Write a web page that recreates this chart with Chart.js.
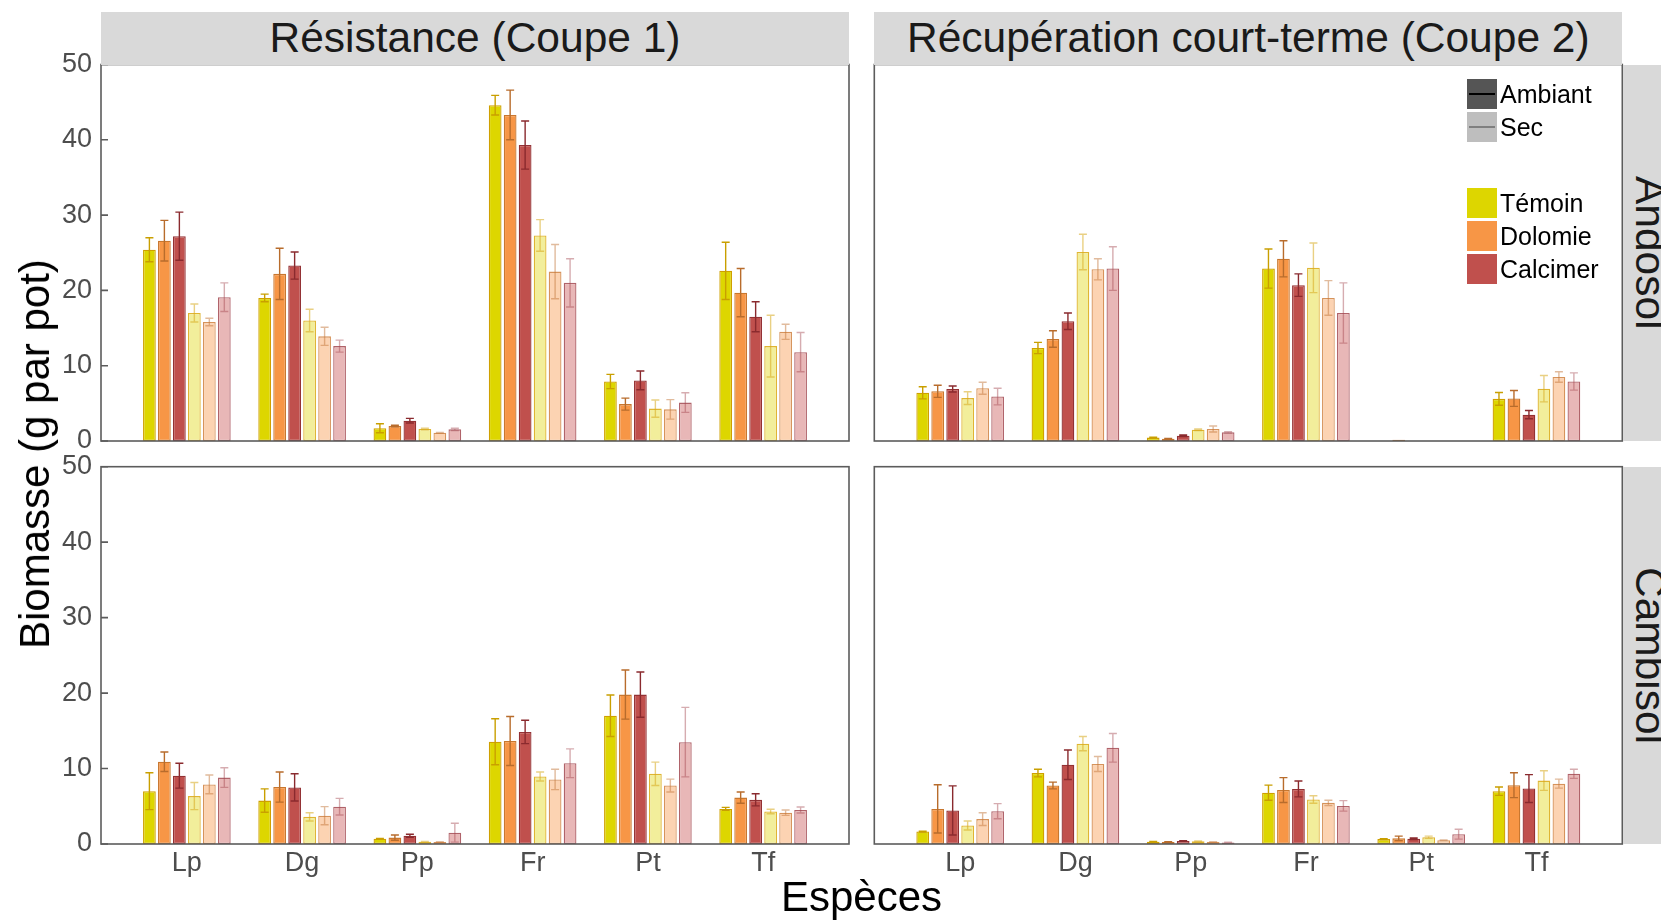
<!DOCTYPE html>
<html>
<head>
<meta charset="utf-8">
<script src="https://cdn.jsdelivr.net/npm/chart.js@4.4.1/dist/chart.umd.min.js"></script>
<style>
  body { margin: 0; background: #fff; overflow: hidden; }
  #wrap { position: relative; width: 1661px; height: 920px; overflow: hidden; font-family: 'Liberation Sans', Arial, sans-serif; }
  canvas { position: absolute; }
  .strip { position: absolute; background: #d9d9d9; color: #1a1a1a; font-size: 42.5px; display: flex; align-items: center; justify-content: center; white-space: nowrap; z-index: 2; }
  .vstrip { writing-mode: vertical-rl; }
  .title { position: absolute; color: #000; font-size: 42px; line-height: 42px; white-space: nowrap; z-index: 2; }
  .key { position: absolute; width: 30px; height: 30px; z-index: 3; }
  .key i { position: absolute; left: 2px; right: 2px; top: 14px; height: 1.5px; }
  .klab { position: absolute; font-size: 25px; line-height: 30px; color: #000; z-index: 3; }
</style>
</head>
<body>
<div id="wrap">
  <canvas id="c11" width="870" height="446" style="left:0;top:30px"></canvas>
  <canvas id="c12" width="801" height="446" style="left:860px;top:30px"></canvas>
  <canvas id="c21" width="870" height="480" style="left:0;top:430px"></canvas>
  <canvas id="c22" width="801" height="480" style="left:860px;top:430px"></canvas>

  <div class="strip" style="left:101px;top:12px;width:748px;height:52.5px">Résistance (Coupe 1)</div>
  <div class="strip" style="left:874.3px;top:12px;width:748px;height:52.5px">Récupération court-terme (Coupe 2)</div>
  <div class="strip vstrip" style="left:1623px;top:64.5px;width:53px;height:376.5px">Andosol</div>
  <div class="strip vstrip" style="left:1623px;top:466.7px;width:53px;height:377.3px">Cambisol</div>

  <div class="title" style="left:861.5px;top:876px;transform:translateX(-50%)">Espèces</div>
  <div class="title" style="left:35px;top:454px;transform:translate(-50%,-50%) rotate(-90deg)">Biomasse (g par pot)</div>

  <div class="key" style="left:1467px;top:79px;background:#555555"><i style="background:#000"></i></div>
  <div class="klab" style="left:1500px;top:79px">Ambiant</div>
  <div class="key" style="left:1467px;top:112.3px;background:#bebebe"><i style="background:#7f7f7f"></i></div>
  <div class="klab" style="left:1500px;top:112.3px">Sec</div>
  <div class="key" style="left:1467px;top:187.7px;background:#ddd600"></div>
  <div class="klab" style="left:1500px;top:187.7px">Témoin</div>
  <div class="key" style="left:1467px;top:221px;background:#f79646"></div>
  <div class="klab" style="left:1500px;top:221px">Dolomie</div>
  <div class="key" style="left:1467px;top:254.3px;background:#c0504d"></div>
  <div class="klab" style="left:1500px;top:254.3px">Calcimer</div>
</div>

<script>
const species = ['Lp', 'Dg', 'Pp', 'Fr', 'Pt', 'Tf'];
const seriesNames = ['Témoin Ambiant', 'Dolomie Ambiant', 'Calcimer Ambiant', 'Témoin Sec', 'Dolomie Sec', 'Calcimer Sec'];
const yTicks = [0, 10, 20, 30, 40, 50];

// rows follow seriesNames, columns follow species
const andosolCoupe1 = [
    [25.4, 19.0, 1.7, 44.6, 7.9, 22.6],
    [26.6, 22.2, 2.0, 43.3, 4.9, 19.7],
    [27.2, 23.3, 2.7, 39.3, 8.05, 16.5],
    [17.0, 16.0, 1.6, 27.3, 4.3, 12.6],
    [15.8, 13.9, 1.1, 22.5, 4.2, 14.5],
    [19.1, 12.6, 1.55, 21.0, 5.1, 11.8]
];
const andosolCoupe1Se = [
    [1.6, 0.5, 0.6, 1.3, 0.95, 3.8],
    [2.7, 3.4, 0.1, 3.3, 0.8, 3.2],
    [3.2, 1.8, 0.3, 3.2, 1.25, 2.0],
    [1.2, 1.5, 0.1, 2.1, 1.15, 4.1],
    [0.5, 1.2, 0.05, 3.6, 1.3, 1.0],
    [1.9, 0.8, 0.15, 3.2, 1.3, 2.6]
];

const andosolCoupe2 = [
    [6.4, 12.35, 0.45, 22.9, null, 5.6],
    [6.6, 13.55, 0.3, 24.2, 0.15, 5.65],
    [6.9, 15.9, 0.7, 20.7, null, 3.5],
    [5.7, 25.1, 1.5, 23.0, null, 6.95],
    [7.0, 22.8, 1.6, 19.0, null, 8.5],
    [5.9, 22.9, 1.15, 17.0, null, 7.9]
];
const andosolCoupe2Se = [
    [0.8, 0.75, 0.05, 2.6, null, 0.85],
    [0.8, 1.1, 0.05, 2.4, 0, 1.05],
    [0.4, 1.1, 0.1, 1.5, null, 0.55],
    [0.85, 2.35, 0.1, 3.3, null, 1.75],
    [0.8, 1.4, 0.4, 2.3, null, 0.7],
    [1.1, 2.9, 0.1, 4.0, null, 1.15]
];

const cambisolCoupe1 = [
    [7.0, 5.75, 0.7, 13.55, 17.0, 4.65],
    [10.9, 7.55, 0.85, 13.65, 19.8, 6.15],
    [9.05, 7.5, 1.1, 14.85, 19.8, 5.85],
    [6.35, 3.6, 0.3, 8.95, 9.3, 4.3],
    [7.9, 3.75, 0.25, 8.55, 7.75, 4.15],
    [8.8, 4.95, 1.5, 10.7, 13.5, 4.5]
];
const cambisolCoupe1Se = [
    [2.45, 1.55, 0.05, 3.05, 2.75, 0.2],
    [1.3, 2.0, 0.35, 3.25, 3.25, 0.75],
    [1.65, 1.8, 0.2, 1.55, 3.0, 0.8],
    [1.8, 0.55, 0.05, 0.6, 1.55, 0.3],
    [1.25, 1.2, 0.05, 1.35, 0.85, 0.35],
    [1.3, 1.1, 1.25, 1.9, 4.6, 0.4]
];

const cambisolCoupe2 = [
    [1.65, 9.4, 0.3, 6.8, 0.65, 7.0],
    [4.65, 7.75, 0.25, 7.15, 0.75, 7.8],
    [4.45, 10.5, 0.4, 7.3, 0.7, 7.35],
    [2.45, 13.3, 0.35, 5.9, 0.9, 8.4],
    [3.3, 10.6, 0.25, 5.45, 0.5, 8.0],
    [4.35, 12.75, 0.2, 5.05, 1.3, 9.3]
];
const cambisolCoupe2Se = [
    [0.05, 0.5, 0.05, 1.0, 0.05, 0.55],
    [3.2, 0.45, 0.05, 1.65, 0.3, 1.65],
    [3.25, 1.95, 0.05, 1.05, 0.1, 1.85],
    [0.6, 0.95, 0.05, 0.5, 0.15, 1.3],
    [0.85, 1.0, 0.05, 0.35, 0.05, 0.6],
    [1.0, 1.9, 0.05, 0.7, 0.65, 0.6]
];

const fills = ['#ddd600', '#f79646', '#c0504d', '#f2ee9b', '#fcd3b2', '#e8b7b7'];
const borders = ['#cfa000', '#c8772f', '#933134', '#dfb532', '#d6935b', '#b0636a'];
const errColors = ['#c99f00', '#b86c2c', '#8a2a2e', 'rgba(215,170,30,0.55)', 'rgba(195,120,60,0.5)', 'rgba(165,70,80,0.45)'];

Chart.defaults.font.family = "'Liberation Sans', Arial, sans-serif";

// error bars + panel frame + inner y ticks
const panelPlugin = {
    id: 'panel',
    afterDatasetsDraw(chart, args, opts) {
        const { ctx, chartArea: a, scales: { y } } = chart;
        ctx.save();
        chart.data.datasets.forEach((ds, di) => {
            const meta = chart.getDatasetMeta(di);
            ctx.strokeStyle = ds.errorColor;
            ctx.lineWidth = 1.4;
            meta.data.forEach((bar, i) => {
                const v = ds.data[i].y, e = ds.errors[i];
                if (v == null || !e) return;
                const hi = y.getPixelForValue(v + e), lo = y.getPixelForValue(Math.max(v - e, 0));
                ctx.beginPath();
                ctx.moveTo(bar.x, hi); ctx.lineTo(bar.x, lo);
                ctx.moveTo(bar.x - 4, hi); ctx.lineTo(bar.x + 4, hi);
                ctx.moveTo(bar.x - 4, lo); ctx.lineTo(bar.x + 4, lo);
                ctx.stroke();
            });
        });
        ctx.strokeStyle = '#5c5c5c';
        ctx.lineWidth = 1.6;
        if (opts.innerTicks) {
            ctx.beginPath();
            yTicks.forEach(t => {
                const py = y.getPixelForValue(t);
                ctx.moveTo(a.left, py); ctx.lineTo(a.left + 7, py);
            });
            ctx.stroke();
        }
        ctx.strokeRect(a.left, a.top, a.right - a.left, a.bottom - a.top);
        ctx.restore();
    }
};

function makePanel(id, values, errors, showY, showX, padding) {
    const datasets = seriesNames.map((name, k) => ({
        label: name,
        data: species.map((s, i) => ({ x: i + 1, y: values[k][i] })),
        errors: errors[k],
        backgroundColor: fills[k],
        borderColor: borders[k],
        errorColor: errColors[k],
        borderWidth: 1.3,
        borderSkipped: false,
        categoryPercentage: 0.78,
        barPercentage: 0.85
    }));
    return new Chart(document.getElementById(id), {
        type: 'bar',
        data: { datasets },
        plugins: [panelPlugin],
        options: {
            responsive: false,
            animation: false,
            devicePixelRatio: 1,
            layout: { padding },
            plugins: {
                legend: { display: false },
                tooltip: { enabled: false },
                panel: { innerTicks: showY }
            },
            scales: {
                x: {
                    type: 'linear',
                    offset: false,
                    min: 0.255,
                    max: 6.745,
                    display: showX,
                    grid: { display: false, drawTicks: false },
                    border: { display: false },
                    afterBuildTicks: s => { s.ticks = species.map((n, i) => ({ value: i + 1 })); },
                    afterFit: s => { if (showX) s.height = 66; },
                    ticks: {
                        autoSkip: false,
                        maxRotation: 0,
                        padding: 3,
                        color: '#4d4d4d',
                        font: { size: 27 },
                        callback: (v, i) => species[i]
                    }
                },
                y: {
                    min: 0,
                    max: 50,
                    display: showY,
                    grid: { display: false, drawTicks: false },
                    border: { display: false },
                    afterFit: s => { if (showY) s.width = 101; },
                    ticks: {
                        stepSize: 10,
                        padding: 9,
                        color: '#4d4d4d',
                        font: { size: 27 }
                    }
                }
            }
        }
    });
}

// canvases: top row spans y 30..476 (plot 64.5..441), bottom row 430..910 (plot 466.7..844)
makePanel('c11', andosolCoupe1, andosolCoupe1Se, true, false, { left: 0, right: 21, top: 34.5, bottom: 35 });
makePanel('c12', andosolCoupe2, andosolCoupe2Se, false, false, { left: 14.3, right: 38.7, top: 34.5, bottom: 35 });
makePanel('c21', cambisolCoupe1, cambisolCoupe1Se, true, true, { left: 0, right: 21, top: 36.7, bottom: 0 });
makePanel('c22', cambisolCoupe2, cambisolCoupe2Se, false, true, { left: 14.3, right: 38.7, top: 36.7, bottom: 0 });
</script>
</body>
</html>
